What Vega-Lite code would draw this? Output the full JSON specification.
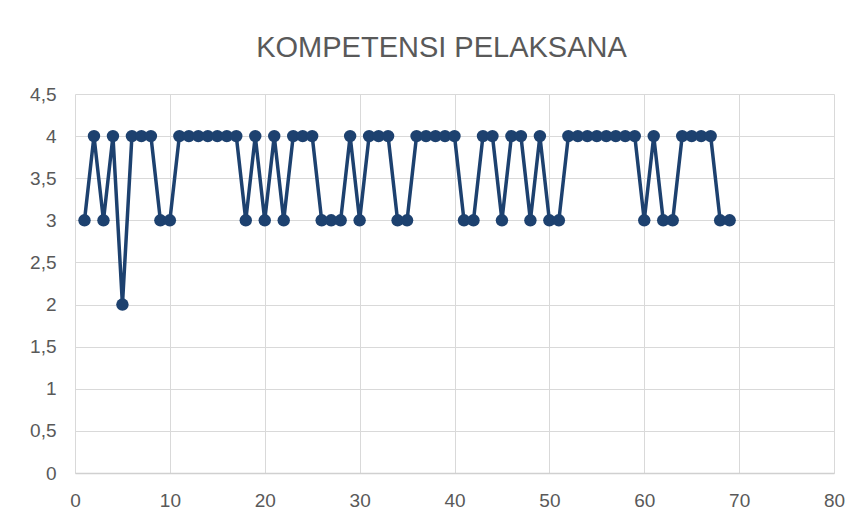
{
  "$schema": "https://vega.github.io/schema/vega-lite/v6.json",
  "width": 759,
  "height": 379,
  "autosize": {"type": "none"},
  "padding": {"left": 75, "top": 94, "right": 28, "bottom": 46},
  "background": "white",
  "title": {
    "text": "KOMPETENSI PELAKSANA",
    "font": "Liberation Sans",
    "fontSize": 29,
    "fontWeight": "normal",
    "color": "#595959",
    "anchor": "middle",
    "dx": -13,
    "offset": 22
  },
  "data": {
    "values": [
      {"n": 1, "v": 3}, {"n": 2, "v": 4}, {"n": 3, "v": 3}, {"n": 4, "v": 4}, {"n": 5, "v": 2},
      {"n": 6, "v": 4}, {"n": 7, "v": 4}, {"n": 8, "v": 4}, {"n": 9, "v": 3}, {"n": 10, "v": 3},
      {"n": 11, "v": 4}, {"n": 12, "v": 4}, {"n": 13, "v": 4}, {"n": 14, "v": 4}, {"n": 15, "v": 4},
      {"n": 16, "v": 4}, {"n": 17, "v": 4}, {"n": 18, "v": 3}, {"n": 19, "v": 4}, {"n": 20, "v": 3},
      {"n": 21, "v": 4}, {"n": 22, "v": 3}, {"n": 23, "v": 4}, {"n": 24, "v": 4}, {"n": 25, "v": 4},
      {"n": 26, "v": 3}, {"n": 27, "v": 3}, {"n": 28, "v": 3}, {"n": 29, "v": 4}, {"n": 30, "v": 3},
      {"n": 31, "v": 4}, {"n": 32, "v": 4}, {"n": 33, "v": 4}, {"n": 34, "v": 3}, {"n": 35, "v": 3},
      {"n": 36, "v": 4}, {"n": 37, "v": 4}, {"n": 38, "v": 4}, {"n": 39, "v": 4}, {"n": 40, "v": 4},
      {"n": 41, "v": 3}, {"n": 42, "v": 3}, {"n": 43, "v": 4}, {"n": 44, "v": 4}, {"n": 45, "v": 3},
      {"n": 46, "v": 4}, {"n": 47, "v": 4}, {"n": 48, "v": 3}, {"n": 49, "v": 4}, {"n": 50, "v": 3},
      {"n": 51, "v": 3}, {"n": 52, "v": 4}, {"n": 53, "v": 4}, {"n": 54, "v": 4}, {"n": 55, "v": 4},
      {"n": 56, "v": 4}, {"n": 57, "v": 4}, {"n": 58, "v": 4}, {"n": 59, "v": 4}, {"n": 60, "v": 3},
      {"n": 61, "v": 4}, {"n": 62, "v": 3}, {"n": 63, "v": 3}, {"n": 64, "v": 4}, {"n": 65, "v": 4},
      {"n": 66, "v": 4}, {"n": 67, "v": 4}, {"n": 68, "v": 3}, {"n": 69, "v": 3}
    ]
  },
  "mark": {
    "type": "line",
    "color": "#1d416f",
    "strokeWidth": 3.5,
    "point": {"filled": true, "size": 155, "color": "#1d416f", "opacity": 1}
  },
  "encoding": {
    "x": {
      "field": "n",
      "type": "quantitative",
      "scale": {"domain": [0, 80], "nice": false},
      "axis": {
        "title": null,
        "values": [0, 10, 20, 30, 40, 50, 60, 70, 80],
        "grid": true,
        "ticks": false,
        "domain": true,
        "domainColor": "#d0d0d0",
        "domainWidth": 1.5,
        "labelPadding": 18,
        "labelFlush": false
      }
    },
    "y": {
      "field": "v",
      "type": "quantitative",
      "scale": {"domain": [0, 4.5], "nice": false},
      "axis": {
        "title": null,
        "values": [0, 0.5, 1, 1.5, 2, 2.5, 3, 3.5, 4, 4.5],
        "grid": true,
        "ticks": false,
        "domain": false,
        "labelPadding": 19,
        "labelExpr": "replace(format(datum.value, '~g'), '.', ',')"
      }
    }
  },
  "config": {
    "view": {"stroke": null},
    "axis": {
      "gridColor": "#d9d9d9",
      "gridWidth": 1,
      "labelFont": "Liberation Sans",
      "labelFontSize": 19,
      "labelColor": "#595959"
    }
  }
}
